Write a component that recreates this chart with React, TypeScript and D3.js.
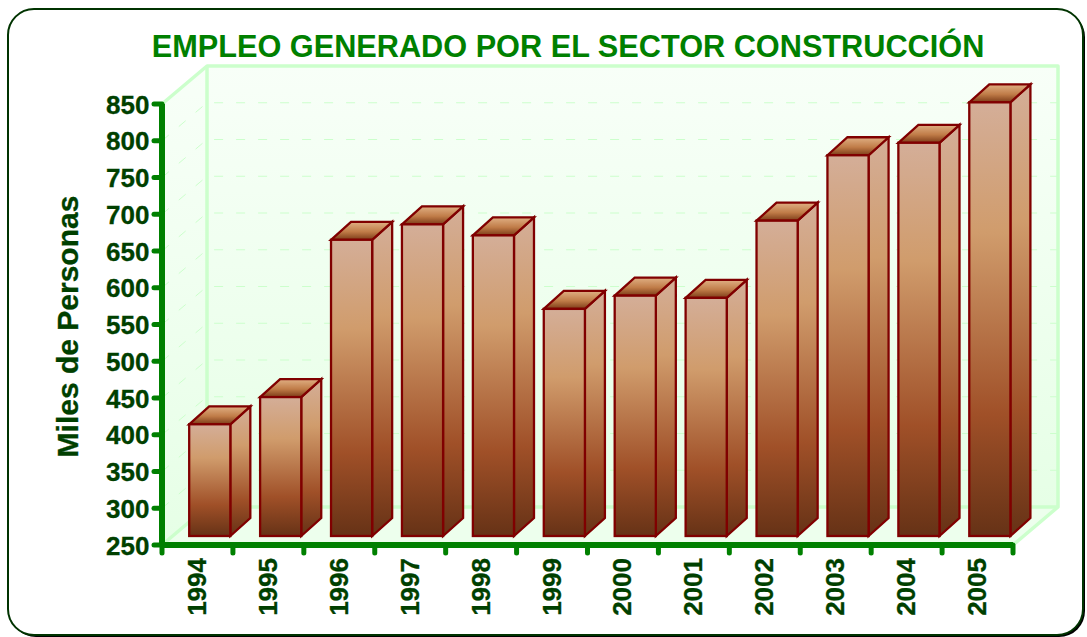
import React from "react";
import * as d3 from "d3";

const categories = ["1994","1995","1996","1997","1998","1999","2000","2001","2002","2003","2004","2005"];
const values = [402,439,653,674,659,559,577,574,679,768,785,840];
const yTicks = [250,300,350,400,450,500,550,600,650,700,750,800,850];
const titleText = "EMPLEO GENERADO POR EL SECTOR CONSTRUCCIÓN";
const yTitle = "Miles de Personas";

const W = 1087, H = 637;
const FONT = "'Liberation Sans', Arial, sans-serif";
const plot = { l: 162, r: 1013, t: 104, b: 545 };
const depth = { x: 45, y: 38 };
const barDepth = { x: 20, y: 18 };
const barShift = { x: 12.3, y: 9 };

export default function App() {
  const x = d3.scaleBand<string>().domain(categories).range([plot.l, plot.r]).paddingInner(0.42).paddingOuter(0.21);
  const y = d3.scaleLinear().domain([250, 850]).range([plot.b, plot.t]);
  const line = d3.line();
  const edges = d3.range(categories.length + 1).map((i) => plot.l + i * x.step());
  const wallL = plot.l + depth.x, wallR = plot.r + depth.x;
  const wallT = plot.t - depth.y, wallB = plot.b - depth.y;
  return (
    <svg width={W} height={H} style={{ position: "absolute", left: 0, top: 0, background: "#fff" }}>
      <defs>
        <linearGradient id="wall" x1="0" y1="0" x2="0" y2="1">
          <stop offset="0" stopColor="#f8fff8" />
          <stop offset="1" stopColor="#e6ffe6" />
        </linearGradient>
        <linearGradient id="bar" x1="0" y1="0" x2="0" y2="1">
          <stop offset="0" stopColor="#d4ae98" />
          <stop offset="0.3" stopColor="#d09c6c" />
          <stop offset="0.72" stopColor="#a05028" />
          <stop offset="1" stopColor="#663216" />
        </linearGradient>
        <linearGradient id="barTop" x1="0" y1="0" x2="0" y2="1">
          <stop offset="0" stopColor="#e0b084" />
          <stop offset="0.55" stopColor="#c07c48" />
          <stop offset="1" stopColor="#7c3c18" />
        </linearGradient>
      </defs>

      <rect x={10} y={11} width={1075} height={626} rx={26} fill="#000" />
      <rect x={8} y={9} width={1075} height={626} rx={26} fill="#fff" stroke="#003300" strokeWidth={2} />

      <text x={568} y={56.5} textAnchor="middle" fontFamily={FONT} fontWeight="bold" fontSize={30.7} fill="#008000">{titleText}</text>

      <path d={`M${wallL},${wallT}H${wallR}V${wallB}H${wallL}Z`} fill="url(#wall)" />
      <path d={`M${plot.l},${plot.t}L${wallL},${wallT}V${wallB}L${plot.l},${plot.b}Z`} fill="url(#wall)" />
      <path d={`M${plot.l},${plot.b}L${wallL},${wallB}H${wallR}L${plot.r},${plot.b}Z`} fill="#edffed" />

      {yTicks.slice(1).map((t) => (
        <path key={t} d={`M${plot.l},${y(t)}L${wallL},${y(t) - depth.y}H${wallR}`} fill="none" stroke="#ccffcc" strokeWidth={1} strokeDasharray="9 13" />
      ))}

      <path d={`M${plot.l},${plot.t}L${wallL},${wallT}H${wallR}V${wallB}L${plot.r},${plot.b}`} fill="none" stroke="#ccffcc" strokeWidth={3.5} strokeLinejoin="round" />
      <path d={`M${wallL},${wallT}V${wallB}H${wallR}M${wallL},${wallB}L${plot.l},${plot.b}`} fill="none" stroke="#ccffcc" strokeWidth={3.5} />

      {categories.map((c, i) => {
        const x0 = (x(c) as number) + barShift.x, x1 = x0 + x.bandwidth();
        const yTop = y(values[i]) - barShift.y, yBot = plot.b - barShift.y;
        const dx = barDepth.x, dy = barDepth.y;
        return (
          <g key={c} stroke="#800000" strokeWidth={2.3} strokeLinejoin="miter">
            <path d={`M${x1},${yTop}L${x1 + dx},${yTop - dy}V${yBot - dy}L${x1},${yBot}Z`} fill="url(#bar)" />
            <path d={`M${x0},${yTop}L${x0 + dx},${yTop - dy}H${x1 + dx}L${x1},${yTop}Z`} fill="url(#barTop)" />
            <rect x={x0} y={yTop} width={x.bandwidth()} height={yBot - yTop} fill="url(#bar)" />
          </g>
        );
      })}

      <g stroke="#008000" strokeWidth={5} strokeLinecap="round" fill="none">
        <path d={line([[plot.l, plot.t], [plot.l, plot.b]]) as string} strokeWidth={6} strokeLinecap="butt" />
        <path d={line([[plot.l, plot.b], [plot.r, plot.b]]) as string} strokeWidth={6} strokeLinecap="butt" />
        {yTicks.map((t) => <path key={t} d={`M${plot.l - 8},${y(t)}H${plot.l}`} />)}
        {edges.map((e, i) => <path key={i} d={`M${e},${plot.b}V${plot.b + 8}`} />)}
      </g>

      <g fontFamily={FONT} fontWeight="bold" fontSize={26} fill="#004000" stroke="#004000" strokeWidth={0.3}>
        {yTicks.map((t) => (
          <text key={t} x={149.5} y={y(t) + 9.5} textAnchor="end">{t}</text>
        ))}
        {categories.map((c) => {
          const cx = (x(c) as number) + x.bandwidth() / 2 + 8.5;
          return <text key={c} transform={`translate(${cx},558) rotate(-90)`} textAnchor="end">{c}</text>;
        })}
        <text transform="translate(78,326.5) rotate(-90)" textAnchor="middle" fontSize={30}>{yTitle}</text>
      </g>
    </svg>
  );
}
